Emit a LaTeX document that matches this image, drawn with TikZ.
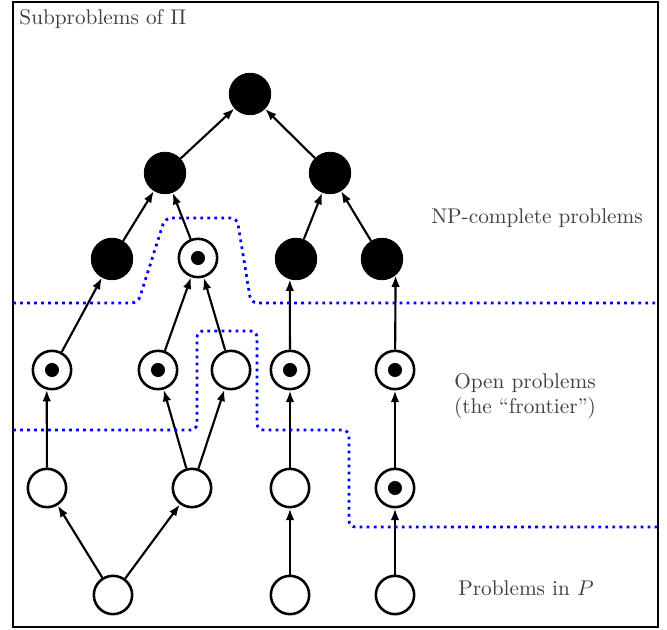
\documentclass[tikz,border=0pt]{standalone}
\usetikzlibrary{arrows.meta}
\begin{document}
\begin{tikzpicture}[x=0.47pt,y=-0.47pt,>={Latex[length=5.5pt,width=4pt]},
  np/.style={draw, circle, fill=black, minimum size=19.5pt, inner sep=0pt},
  open/.style={draw, circle, line width=1.2pt, minimum size=18pt, inner sep=0pt,
    path picture={\fill (path picture bounding box.center) circle (3.3pt);}},
  poly/.style={draw, circle, line width=1.2pt, minimum size=18pt, inner sep=0pt},
  border/.style={draw=blue, line width=1.3pt, dotted, rounded corners=3},
  lbl/.style={text=black!75, align=center}]
\useasboundingbox (0,0) rectangle (667,630);
\draw[line width=0.6pt] (13,2) rectangle (658,627);

% NP-complete
\node[np] (1) at (250,94) {};
\node[np] (2) at (165,173) {};
\node[np] (3) at (330,173) {};
\node[np] (4) at (112,259) {};
\node[open] (5) at (198,258) {};
\node[np] (6) at (296,259) {};
\node[np] (7) at (382,259) {};
% open
\node[open] (8) at (52,370) {};
\node[open] (9) at (158,370) {};
\node[poly] (10) at (231,370) {};
\node[open] (11) at (290,370) {};
\node[open] (12) at (395,370) {};
\node[poly] (13) at (47,488) {};
\node[poly] (14) at (192,488) {};
\node[poly] (15) at (290,488) {};
\node[open] (16) at (395,488) {};
% P
\node[poly] (17) at (113,595) {};
\node[poly] (18) at (290,595) {};
\node[poly] (19) at (395,595) {};

\path[draw,line width=1pt,->] (2) -- (1);
\path[draw,line width=1pt,->] (3) -- (1);
\path[draw,line width=1pt,->] (4) -- (2);
\path[draw,line width=1pt,->] (5) -- (2);
\path[draw,line width=1pt,->] (6) -- (3);
\path[draw,line width=1pt,->] (7) -- (3);
\path[draw,line width=1pt,->] (8) -- (4);
\path[draw,line width=1pt,->] (9) -- (5);
\path[draw,line width=1pt,->] (10) -- (5);
\path[draw,line width=1pt,->] (11) -- (6.253);
\path[draw,line width=1pt,->] (12) -- (7.310);
\path[draw,line width=1pt,->] (13) -- (8.255);
\path[draw,line width=1pt,->] (14) -- (9);
\path[draw,line width=1pt,->] (14) -- (10);
\path[draw,line width=1pt,->] (15) -- (11);
\path[draw,line width=1pt,->] (16) -- (12);
\path[draw,line width=1pt,->] (17) -- (13);
\path[draw,line width=1pt,->] (17) -- (14);
\path[draw,line width=1pt,->] (18) -- (15);
\path[draw,line width=1pt,->] (19) -- (16);

% frontier
\draw[border] (13,303) -- (138,303) -- (165,218) -- (237,218) -- (251,303) -- (658,303);
\draw[border] (13,430) -- (197,430) -- (197,331) -- (257,331) -- (257,430)
  -- (349,430) -- (349,527) -- (658,527);

\node[lbl, anchor=west, inner sep=0pt] (t) at (19,19) {Subproblems of $\Pi$};
\node[lbl] (np) at (537,218) {NP-complete problems};
\node[lbl] (op) at (525,396) {Open problems\\(the ``frontier'')};
\node[lbl] (p) at (526,588) {Problems in $P$};
\end{tikzpicture}
\end{document}
